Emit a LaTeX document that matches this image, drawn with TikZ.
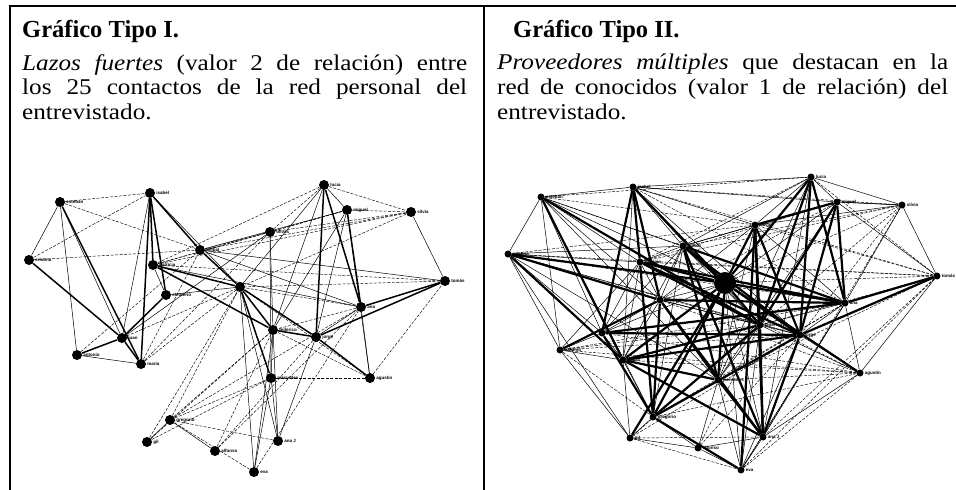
\documentclass[tikz,border=0pt]{standalone}
\usepackage{fontspec}
\setmainfont{Liberation Serif}
\newfontfamily\wideserif{Liberation Serif}[FakeStretch=1.12]
\newfontfamily\tagfont{Liberation Sans}
\newcommand{\capline}[2]{\leavevmode\hbox to #1{\spaceskip=0.25em plus 0.6em minus 0.05em\relax #2}}
\usetikzlibrary{positioning}

\begin{document}
\begin{tikzpicture}
[
   x=1pt, y=-1pt,
   person/.style={circle, fill=black, inner sep=0pt, minimum size=#1},
   person/.default=10pt,
   nametag/.style={font=\tagfont\bfseries\fontsize{4.5}{5}\selectfont, inner sep=1pt},
   stronglink/.style={line width=1.5pt},
   heavylink/.style={line width=2.2pt},
   weaklink/.style={line width=0.5pt},
   dashlink/.style={line width=0.45pt, dash pattern=on 3pt off 1.5pt},
   heading/.style={anchor=base west, inner sep=0pt, font=\bfseries\fontsize{24.5}{26}\selectfont},
   caption/.style={anchor=north west, inner sep=0pt, align=left, font=\wideserif\fontsize{22.5}{24.6}\selectfont}]
\useasboundingbox (0,0) rectangle (956,490);

% frame
\draw[line width=1.5pt] (10,490) -- (10,6) -- (956,6);
\draw[line width=1.5pt] (484,6) -- (484,490);

% texts
\node[heading] (titleI) at (22,37) {Gráfico Tipo I.};
\node[caption, text width=445pt] (textI) at (22,54)
   {\capline{445pt}{\textit{Lazos fuertes} (valor 2 de relación) entre}\\
    \capline{445pt}{los 25 contactos de la red personal del}\\
    entrevistado.};
\node[heading] (titleII) at (513,37) {Gráfico Tipo II.};
\node[caption, text width=451pt] (textII) at (497,54)
   {\capline{451pt}{\textit{Proveedores múltiples} que destacan en la}\\
    \capline{451pt}{red de conocidos (valor 1 de relación) del}\\
    entrevistado.};

% Tipo I: lazos fuertes
\foreach \n/\x/\y/\nm in {es/60/202/esteban, is/150/193/isabel, cr/29/260/cristina,
   an/200/250/anibal, pa/153/265/patricia, el/166/295/eleuterio, ju/122/338/juan,
   at/77/355/antonio, ma/141/364/maria, lu/324/185/lucia, mi/347/210/miguel,
   si/411/212/silvia, ol/270/232/olivas, to/445/281/tomás, ne/361/307/ana,
   fe/273/330/federico, jr/316/337/jorge, me/271/378/mercedes, ag/370/378/agustin,
   a1/278/441/ana J, ev/254/472/eva, gr/170/420/gregorio, gi/147/442/gil,
   al/215/451/alfonso}
   \node[person, label={[nametag]right:\nm}] (L\n) at (\x,\y) {};
\node[person] (Lce) at (240,287) {};

\foreach \a/\b in {es/ma, is/an, is/pa, is/el, cr/ju, pa/ce, pa/fe, an/ce, ce/fe,
   ce/jr, el/ju, ju/ma, ju/at, lu/ne, mi/ne, to/ne, to/jr, fe/jr, jr/ag, ce/me,
   is/ma, lu/jr}
   \draw[stronglink] (L\a) -- (L\b);
\foreach \a/\b in {is/ju, is/ce, es/ju, cr/es, ol/fe, ol/me, ol/ju, lu/ce, lu/fe,
   mi/fe, mi/jr, si/to, lu/mi, fe/me, fe/a1, me/a1, jr/a1, ce/ev, fe/ev, gr/al,
   gi/gr, me/ev, ne/jr, an/to, an/mi, ce/a1, ne/ag, mi/ag, at/ma, pa/el, el/ce,
   pa/ne, an/ne, es/at}
   \draw[weaklink] (L\a) -- (L\b);
\foreach \a/\b in {es/is, es/an, cr/is, cr/an, lu/si, mi/si, si/ol, lu/ol, mi/ol,
   ol/an, ol/pa, si/pa, si/ce, to/ce, to/pa, ag/to, ag/fe, gi/fe, gi/me, gr/ce,
   gr/fe, gr/me, gr/ne, al/jr, al/fe, al/ne, ev/gr, a1/gr, ma/an, ma/ce, ju/ce,
   ne/ce, ne/fe, ag/ce, ag/me, lu/pa, mi/pa, si/an, ol/ma, gi/ce, ev/ne, at/an}
   \draw[dashlink] (L\a) -- (L\b);

% Tipo II: proveedores multiples
\foreach \n/\x/\y/\nm in {es/541/197/esteban, is/633/187/isabel, cr/508/254/cristina,
   an/683/246/anibal, pa/640/262/patricia, el/660/300/eleuterio, ju/602/333/juan,
   at/560/350/antonio, ma/623/360/maria, lu/811/177/lucia, mi/837/202/miguel,
   si/902/205/silvia, ol/755/225/olivas, to/937/276/tomás, ne/845/303/ana,
   fe/760/325/federico, jr/800/335/jorge, me/718/380/mercedes, ag/860/373/agustin,
   a1/763/437/ana J, ev/741/470/eva, gr/653/417/gregorio, gi/630/438/gil,
   al/698/448/alfonso}
   \node[person=7pt, label={[nametag]right:\nm}] (R\n) at (\x,\y) {};
\node[person=22pt] (Rce) at (725,283) {};

\foreach \a/\b in {is/ce, is/pa, is/el, is/ju, es/ma, es/fe, cr/ma, cr/ce, pa/ce,
   an/ce, ce/fe, ce/jr, ce/ag, ce/ne, ce/ol, ol/fe, ol/mi, lu/ne, lu/jr, mi/ne,
   to/jr, to/ne, fe/a1, jr/a1, ce/me, me/a1, el/gr, ju/gr, ma/fe, ma/jr, el/ne,
   pa/fe, an/ne, ol/ev, ce/gi, ma/me, an/jr, lu/ce, mi/fe, gr/ev, ju/jr, el/me,
   pa/jr, an/a1, ol/a1, ce/gr, ju/ne, ma/a1, at/el, pa/gr, ce/ma, an/me, ol/jr,
   fe/gr, jr/gr, lu/fe, mi/jr, cr/el, el/a1, pa/ne}
   \draw[heavylink] (R\a) -- (R\b);
\foreach \a/\b in {es/is, es/cr, es/an, es/pa, es/ce, es/el, es/ju, es/at, es/gr,
   is/an, is/ma, is/ol, is/lu, is/mi, is/gr, cr/pa, cr/an, cr/at, cr/ju,
   cr/gi, cr/jr, an/pa, an/ol, an/mi, an/fe, an/ma, pa/el, pa/ju, pa/ma, el/ju,
   el/ma, el/ce, el/fe, el/jr, ju/ma, ju/at, ju/ce, at/ma, at/gi, ma/gi, ma/gr,
   lu/mi, lu/si, lu/ol, lu/a1, mi/si, mi/ol, mi/to, si/to,
   si/ne, si/ol, ol/ne, to/ag, ne/ag, ne/jr, ne/fe, jr/ag, fe/ag, fe/me,
   jr/me, me/gr, me/ev, me/al, a1/ev, gr/gi, gi/al, al/ev, al/a1, ag/a1, fe/ev,
   jr/ev, ne/a1, gr/al, ce/a1, ce/ev, es/me, is/fe, is/jr, cr/me, an/gr, ol/me,
   lu/me, mi/me, ne/ev, pa/at, an/ju, an/el, ol/el, mi/ce, lu/an, si/mi}
   \draw[weaklink] (R\a) -- (R\b);
\foreach \a/\b in {es/ol, es/lu, es/ne, cr/ol, cr/fe, cr/ne, cr/to, is/si, is/ne,
   is/to, si/ce, si/fe, si/pa, to/ce, to/fe, to/a1, to/pa, lu/to, ag/me, ag/ju,
   ag/pa, ag/ma, ag/ev, ag/gr, ne/me, jr/gi, fe/gi, ne/gr, lu/pa, mi/pa, mi/el,
   si/an, at/fe, at/jr, at/gr, gi/a1, gi/ev, al/jr, al/fe, ev/ne, to/me, to/ol,
   si/jr, ag/at, ag/el, ne/at, si/a1, to/ev}
   \draw[dashlink] (R\a) -- (R\b);
\end{tikzpicture}
\end{document}
